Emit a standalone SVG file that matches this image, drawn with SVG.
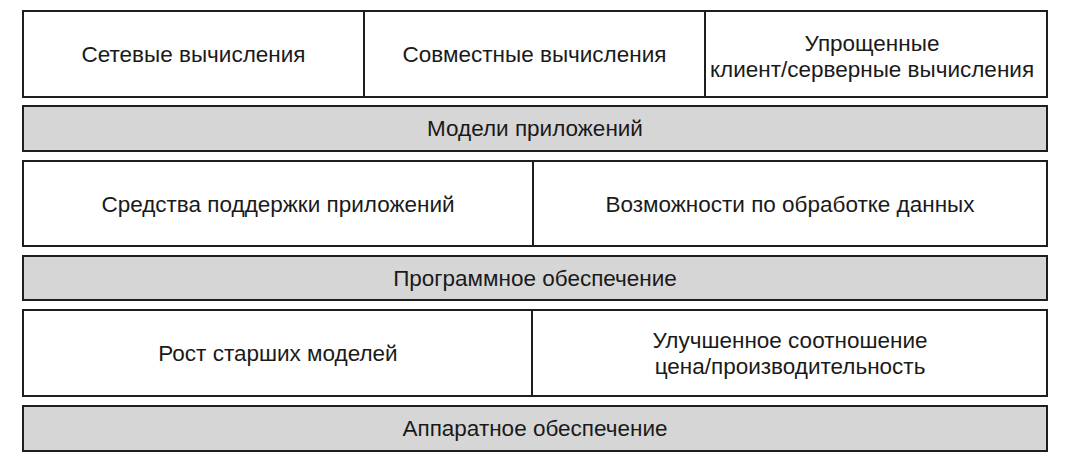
<svg xmlns="http://www.w3.org/2000/svg" width="1075" height="469" viewBox="0 0 1075 469">
<style>
.box{fill:#ffffff;stroke:#1e1e1e;stroke-width:2}
.bar{fill:#d6d6d6;stroke:#1e1e1e;stroke-width:2}
.div{stroke:#1e1e1e;stroke-width:2}
text{font-family:"Liberation Sans",Arial,sans-serif;font-size:22.5px;fill:#1a1a1a;text-anchor:middle;dominant-baseline:central}
</style>
<rect width="1075" height="469" fill="#ffffff"/>
<g id="row1">
<rect class="box" x="23" y="11" width="1024" height="86"/>
<line class="div" x1="364" y1="11" x2="364" y2="97"/>
<line class="div" x1="705" y1="11" x2="705" y2="97"/>
</g>
<g id="n-network"><text x="193.5" y="54">Сетевые вычисления</text></g>
<g id="n-coop"><text x="534.5" y="54">Совместные вычисления</text></g>
<g id="n-cs"><text x="872" y="43">Упрощенные</text><text x="872" y="69">клиент/серверные вычисления</text></g>
<g id="n-models"><rect class="bar" x="23" y="106" width="1024" height="45"/><text x="535" y="128.5">Модели приложений</text></g>
<g id="row3">
<rect class="box" x="23" y="161" width="1024" height="85"/>
<line class="div" x1="533" y1="161" x2="533" y2="246"/>
</g>
<g id="n-support"><text x="278" y="204">Средства поддержки приложений</text></g>
<g id="n-data"><text x="790" y="204">Возможности по обработке данных</text></g>
<g id="n-software"><rect class="bar" x="23" y="256" width="1024" height="44"/><text x="535" y="278.5">Программное обеспечение</text></g>
<g id="row5">
<rect class="box" x="23" y="310" width="1024" height="86"/>
<line class="div" x1="532" y1="310" x2="532" y2="396"/>
</g>
<g id="n-growth"><text x="278" y="353">Рост старших моделей</text></g>
<g id="n-price"><text x="790" y="340">Улучшенное соотношение</text><text x="790" y="366">цена/производительность</text></g>
<g id="n-hardware"><rect class="bar" x="23" y="406" width="1024" height="45"/><text x="535" y="428.5">Аппаратное обеспечение</text></g>
<g id="connectors"></g>
</svg>
